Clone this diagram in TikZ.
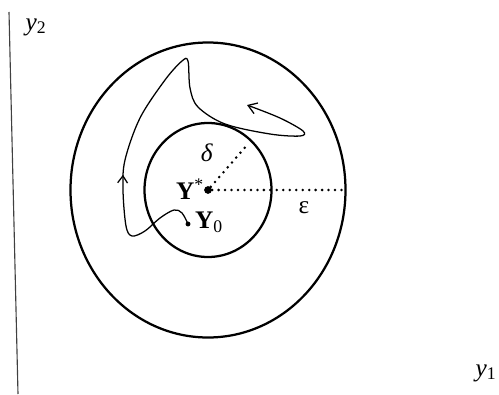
\documentclass[tikz,border=0pt]{standalone}
\usepackage{fontspec}
\setmainfont{Liberation Serif}
\usetikzlibrary{arrows.meta, decorations.markings}

\begin{document}
\begin{tikzpicture}[
    x=0.025cm, y=-0.025cm,
    every node/.style={font=\fontsize{18}{20}\selectfont, inner sep=0pt},
    axisline/.style={draw=black!75, line width=0.8pt},
    bound/.style={draw, line width=1.6pt},
    radius line/.style={line width=2pt, dash pattern=on 0pt off 4.6pt, line cap=round},
    traj/.style={draw, line width=0.9pt},
    point/.style={circle, fill, inner sep=0pt, minimum size=5.5pt}
]
\useasboundingbox (0,0) rectangle (499,394);

% Axis
\coordinate (ytop) at (9,12);
\coordinate (ybot) at (18,394);
\draw[axisline] (ytop) -- (ybot);
\node (ytwo) at (36,27) {\textit{y}\textsubscript{2}};
\node (yone) at (486,373) {\textit{y}\textsubscript{1}};

% Equilibrium and its neighbourhoods
\node[point] (ystar) at (208,190) {};
\draw[bound] (ystar) ellipse [x radius=137.5, y radius=147.5];
\draw[bound] (ystar) ellipse [x radius=63.5, y radius=67];
\coordinate (epsend) at (345,190);
\coordinate (delend) at (248,144);
\draw[radius line] (ystar) -- (epsend);
\draw[radius line] (ystar) -- (delend);

% Labels
\node (ystarlab) at (190,189) {\textbf{Y}\textsuperscript{*}};
\node (deltalab) at (207,153) {\textit{δ}};
\node (epslab) at (304,208) {ε};
\node (yzerolab) at (209,222) {\textbf{Y}\textsubscript{0}};

% Trajectory
\node[point, minimum size=3.5pt] (yzero) at (188,224) {};
\draw[traj, -{Straight Barb[length=6pt, width=8pt]},
    postaction={decorate},
    decoration={markings, mark=at position 0.27 with {\arrow{Straight Barb[length=5pt, width=7pt]}}}]
    plot[smooth, tension=0.55] coordinates {
    (188,224) (182,213) (174,210) (160,218) (145,231) (132,236) (126,226)
    (123,190) (125,160) (140,118) (165,80) (182,61) (188,61) (190,88)
    (198,107) (225,124) (270,134) (300,136) (303,131) (280,118) (247,105)};

\end{tikzpicture}
\end{document}
